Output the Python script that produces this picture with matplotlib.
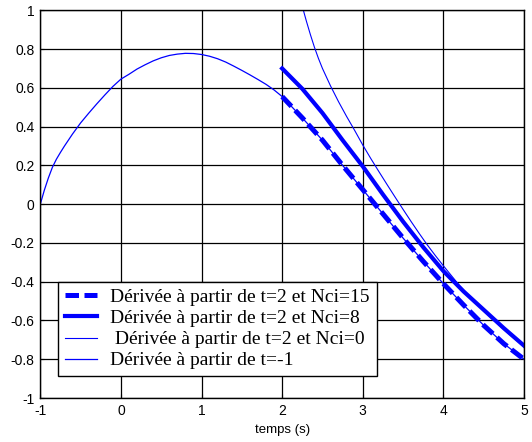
import numpy as np
import matplotlib
matplotlib.use('Agg')
import matplotlib.pyplot as plt

plt.rcParams['axes.unicode_minus'] = False

# Dérivée à partir de t=-1 (jusqu'a t=2, ensuite confondue avec Nci=15)
t_a = [-1.0, -0.95, -0.9, -0.85, -0.8, -0.75, -0.7, -0.6, -0.5, -0.4, -0.3, -0.2, -0.1,
       0.0, 0.1, 0.2, 0.3, 0.4, 0.5, 0.6, 0.7, 0.8, 0.9, 1.0, 1.1, 1.2, 1.3, 1.4,
       1.5, 1.6, 1.7, 1.8, 1.9]
y_a = [0.0, 0.072, 0.135, 0.19, 0.232, 0.267, 0.3, 0.362, 0.419, 0.469, 0.517, 0.563, 0.607,
       0.645, 0.67, 0.697, 0.719, 0.739, 0.755, 0.767, 0.774, 0.778, 0.777, 0.772, 0.763,
       0.75, 0.733, 0.712, 0.69, 0.667, 0.643, 0.618, 0.589]

# Dérivée à partir de t=2, Nci=15
t_15 = [2.0, 2.25, 2.5, 2.75, 3.0, 3.25, 3.5, 3.75, 4.0, 4.25, 4.5, 4.75, 5.0]
y_15 = [0.555, 0.445, 0.33, 0.2, 0.075, -0.05, -0.175, -0.295, -0.41, -0.52, -0.625, -0.72, -0.80]

# Dérivée à partir de t=2, Nci=8
t_8 = [2.0, 2.25, 2.5, 2.75, 3.0, 3.25, 3.5, 3.75, 4.0, 4.25, 4.5, 4.75, 5.0]
y_8 = [0.70, 0.595, 0.47, 0.33, 0.195, 0.05, -0.09, -0.222, -0.345, -0.45, -0.545, -0.64, -0.73]

# Dérivée à partir de t=2, Nci=0
t_0 = [2.0, 2.1, 2.2, 2.25, 2.3, 2.35, 2.4, 2.45, 2.5, 2.6, 2.7, 2.8, 2.9, 3.0, 3.1,
       3.2, 3.3, 3.4, 3.5, 3.6, 3.7, 3.8, 3.9, 4.0, 4.2, 4.4, 4.6, 4.8, 5.0]
y_0 = [1.6, 1.35, 1.10, 1.02, 0.945, 0.875, 0.81, 0.752, 0.70, 0.61, 0.528, 0.452, 0.38,
       0.305, 0.235, 0.168, 0.102, 0.037, -0.027, -0.09, -0.151, -0.21, -0.265, -0.318,
       -0.42, -0.51, -0.59, -0.665, -0.735]

labels = ['Dérivée à partir de t=2 et Nci=15',
          'Dérivée à partir de t=2 et Nci=8',
          ' Dérivée à partir de t=2 et Nci=0',
          'Dérivée à partir de t=-1']

xticks = [-1, 0, 1, 2, 3, 4, 5]
yticks = [-1, -0.8, -0.6, -0.4, -0.2, 0, 0.2, 0.4, 0.6, 0.8, 1]

fig = plt.figure(figsize=(5.32, 4.42), dpi=100)
ax = fig.add_axes([40.3 / 532, 44 / 442, 483.7 / 532, 387.7 / 442])

blue = '#0000ff'
ax.plot(t_15, y_15, color=blue, lw=3.6, dashes=(2.7, 1.1), label=labels[0])
ax.plot(t_8, y_8, color=blue, lw=3.0, label=labels[1])
ax.plot(t_0, y_0, color=blue, lw=0.8, label=labels[2])
ax.plot(t_a + t_15, y_a + y_15, color=blue, lw=0.9, label=labels[3])

ax.set_xlim(-1, 5)
ax.set_ylim(-1, 1)
ax.set_xticks(xticks)
ax.set_yticks(yticks)
ax.set_xticklabels([str(v) for v in xticks])
ax.set_yticklabels(['%g' % v for v in yticks])
ax.grid(True, color='black', lw=0.9)
ax.tick_params(direction='in', length=3, labelsize=10, pad=4)
for lab in ax.get_xticklabels() + ax.get_yticklabels():
    lab.set_family('Liberation Sans')
for s in ax.spines.values():
    s.set_linewidth(1.0)

ax.set_xlabel('temps (s)', fontsize=9.5, family='Liberation Sans', labelpad=5)

leg = ax.legend(loc='upper left', bbox_to_anchor=(0.0372, 0.30), borderaxespad=0,
                prop={'family': 'Liberation Serif', 'size': 14},
                handlelength=1.65, handletextpad=0.67, labelspacing=0.18,
                borderpad=0.35, fancybox=False, framealpha=1, edgecolor='black')
leg.get_frame().set_linewidth(1.0)

plt.savefig('out.png', dpi=100)
